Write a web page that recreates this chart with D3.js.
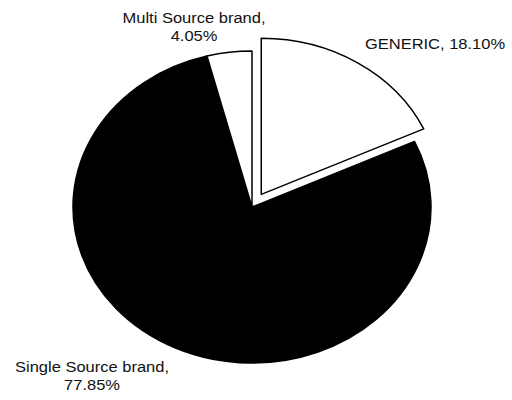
<!DOCTYPE html>
<html>
<head>
<meta charset="utf-8">
<script src="https://cdn.jsdelivr.net/npm/d3@7"></script>
<style>
  html, body { margin: 0; padding: 0; background: #fff; }
  svg { display: block; }
  text { font-family: "Liberation Sans", Arial, sans-serif; font-size: 15px; fill: #111; }
</style>
</head>
<body>
<div id="chart"></div>
<script>
const categories = ['GENERIC', 'Single Source brand', 'Multi Source brand'];
const shares = [18.10, 77.85, 4.05];
const valueLabels = ['18.10%', '77.85%', '4.05%'];

(function() {
  const width = 512, height = 400;
  const cx = 252, cy = 207;
  const ry = 156, rx = 179;
  const explode = 15;
  const textStretch = 1.1;

  const fills = ['#fff', '#000', '#fff'];

  const svg = d3.select('#chart').append('svg')
    .attr('width', width)
    .attr('height', height);

  const pie = d3.pie().sort(null).value(d => d.v);
  const data = pie(categories.map((c, i) => ({ c, v: shares[i], l: valueLabels[i] })));

  const arc = d3.arc().innerRadius(0).outerRadius(ry);

  // pie drawn as an ellipse (reference is slightly stretched horizontally)
  const g = svg.append('g')
    .attr('transform', `translate(${cx},${cy}) scale(${rx / ry},1)`);

  g.selectAll('path.slice')
    .data(data)
    .enter()
    .append('path')
    .attr('class', 'slice')
    .attr('d', arc)
    .attr('transform', (d, i) => {
      if (i !== 0) return null;
      const a = (d.startAngle + d.endAngle) / 2;
      return `translate(${Math.sin(a) * explode},${-Math.cos(a) * explode})`;
    })
    .attr('fill', (d, i) => fills[i])
    .attr('stroke', '#000')
    .attr('stroke-width', 1.5)
    .attr('stroke-linejoin', 'round')
    .attr('vector-effect', 'non-scaling-stroke');

  // label placement (relative to pie centre)
  const labelPos = [
    { x: 183, y: -158, lines: d => [`${d.data.c}, ${d.data.l}`] },
    { x: -160, y: 165, lines: d => [`${d.data.c},`, d.data.l] },
    { x: -58, y: -184, lines: d => [`${d.data.c},`, d.data.l] }
  ];

  const labels = svg.append('g')
    .attr('transform', `translate(${cx},${cy})`);

  data.forEach((d, i) => {
    const p = labelPos[i];
    const t = labels.append('g')
      .attr('transform', `translate(${p.x},${p.y}) scale(${textStretch},1)`)
      .append('text')
      .attr('text-anchor', 'middle');
    p.lines(d).forEach((line, k) => {
      t.append('tspan')
        .attr('x', 0)
        .attr('dy', k === 0 ? 0 : 18)
        .text(line);
    });
  });
})();
</script>
</body>
</html>
